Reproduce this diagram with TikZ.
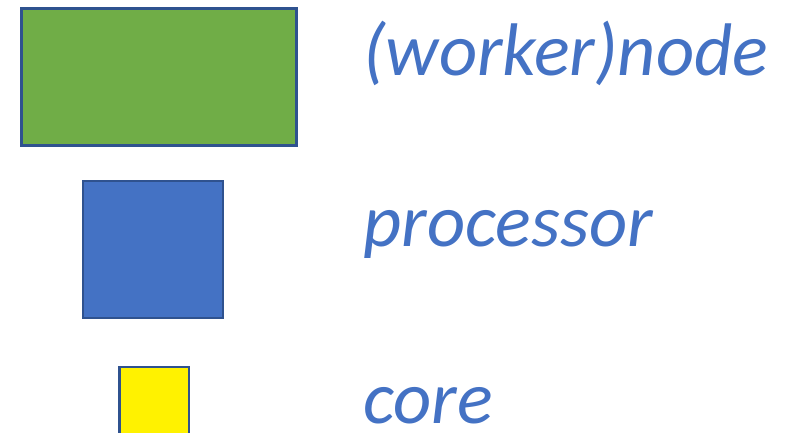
\documentclass[tikz,border=0pt]{standalone}
\usepackage{fontspec}
\setmainfont{Carlito}
\definecolor{accblue}{HTML}{4472C4}
\definecolor{accgreen}{HTML}{70AD47}
\definecolor{edgeblue}{HTML}{2F528F}
\begin{document}
\begin{tikzpicture}[x=1pt,y=-1pt,
  box/.style={draw=edgeblue,line width=2.2pt},
  lbl/.style={anchor=base west,inner sep=0pt,text=accblue,font=\fontsize{74.5}{78}\selectfont\itshape}]
\useasboundingbox (0,0) rectangle (800,433);
\begin{scope}
\clip (0,0) rectangle (800,433);
\draw[box,fill=accgreen] (21.5,8.5) rectangle (296.5,145.5);
\draw[box,fill=accblue] (83,181) rectangle (223,318);
\draw[box,fill=yellow] (119.5,367) rectangle (189,445);
\end{scope}
\node[lbl] (n1) at (363,76) {(worker)node};
\node[lbl] (n2) at (363,246) {processor};
\node[lbl,text depth=0pt] (n3) at (363,423) {core};
\end{tikzpicture}
\end{document}
